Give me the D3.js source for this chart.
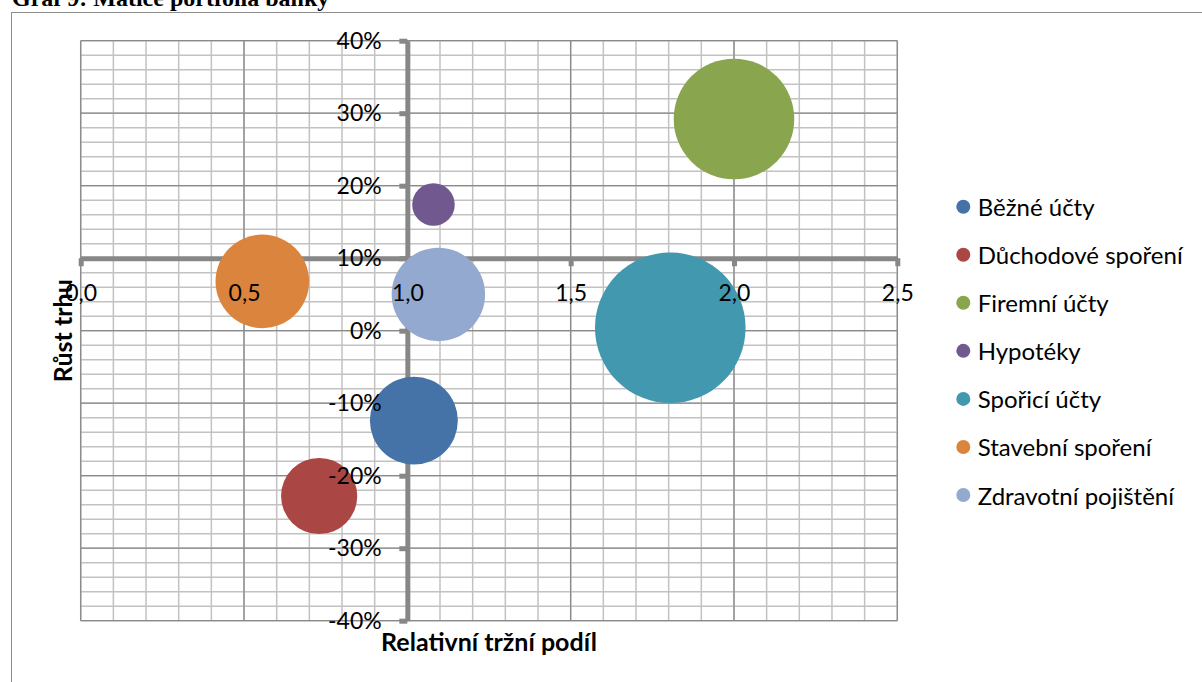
<!DOCTYPE html>
<html lang="cs">
<head>
<meta charset="utf-8">
<script src="https://cdn.jsdelivr.net/npm/d3@7"></script>
<style>
  html, body { margin: 0; padding: 0; background: #fff; }
  svg { display: block; }
</style>
</head>
<body>
<svg id="chart" width="1202" height="682"></svg>
<script>
// Portfolio matrix of the bank's products (BCG-style bubble chart)
const categories = ["Běžné účty", "Důchodové spoření", "Firemní účty", "Hypotéky",
                    "Spořicí účty", "Stavební spoření", "Zdravotní pojištění"];
const relativeShare = [1.02, 0.73, 2.00, 1.08, 1.805, 0.556, 1.095];
const marketGrowth  = [-0.124, -0.228, 0.292, 0.174, 0.004, 0.068, 0.050];
const segmentSize   = [34.1, 25.6, 64.1, 8.0, 100, 38.6, 38.5];
const colors = ["#4572A7", "#AA4643", "#89A54E", "#71588F", "#4198AF", "#DB843D", "#93A9CF"];

const xTicks = [0, 0.5, 1.0, 1.5, 2.0, 2.5];
const yTicks = [-0.4, -0.3, -0.2, -0.1, 0, 0.1, 0.2, 0.3, 0.4];
const xCross = 1.0;   // vertical axis crosses here
const yCross = 0.1;   // horizontal axis crosses here

const title = "Graf 9: Matice portfolia banky";
const xTitle = "Relativní tržní podíl";
const yTitle = "Růst trhu";

const cz = d3.formatLocale({decimal: ",", thousands: " ", grouping: [3], currency: ["", " Kč"], minus: "-", percent: "%"});
const fmtX = cz.format(".1f");
const fmtY = cz.format(".0%");

const svg = d3.select("#chart");
const plot = {left: 80.7, right: 897.3, top: 40.7, bottom: 620.7};

const x = d3.scaleLinear().domain([0, 2.5]).range([plot.left, plot.right]);
const y = d3.scaleLinear().domain([-0.4, 0.4]).range([plot.bottom, plot.top]);
const r = d3.scaleSqrt().domain([0, d3.max(segmentSize)]).range([0, 75.3]);

// frame around the figure
svg.append("rect")
  .attr("x", 11.5).attr("y", 12.5).attr("width", 1400).attr("height", 900)
  .attr("fill", "none").attr("stroke", "#8c8c8c").attr("stroke-width", 1);

// caption
svg.append("text")
  .attr("x", 12).attr("y", 5.5)
  .attr("font-family", "'Liberation Serif', 'Times New Roman', serif")
  .attr("font-weight", "bold").attr("font-size", 24)
  .text(title);

// gridlines
const minorX = d3.range(0, 26).map(i => i / 10);
const minorY = d3.range(0, 41).map(i => -0.4 + i * 0.02);
const grid = svg.append("g");
grid.selectAll(".mx").data(minorX).join("line")
  .attr("x1", d => x(d)).attr("x2", d => x(d))
  .attr("y1", plot.top).attr("y2", plot.bottom)
  .attr("stroke", "#c2c2c2").attr("stroke-width", 1.5);
grid.selectAll(".my").data(minorY).join("line")
  .attr("x1", plot.left).attr("x2", plot.right)
  .attr("y1", d => y(d)).attr("y2", d => y(d))
  .attr("stroke", "#c2c2c2").attr("stroke-width", 1.5);
grid.selectAll(".Mx").data(xTicks).join("line")
  .attr("x1", d => x(d)).attr("x2", d => x(d))
  .attr("y1", plot.top).attr("y2", plot.bottom)
  .attr("stroke", "#8a8a8a").attr("stroke-width", 1.3);
grid.selectAll(".My").data(yTicks).join("line")
  .attr("x1", plot.left).attr("x2", plot.right)
  .attr("y1", d => y(d)).attr("y2", d => y(d))
  .attr("stroke", "#8a8a8a").attr("stroke-width", 1.3);

// axis lines and tick marks (under the bubbles)
const axisColor = "#878787";
const xAxisLines = d3.axisBottom(x).tickValues(xTicks).tickSize(8).tickSizeOuter(0).tickFormat("");
const yAxisLines = d3.axisLeft(y).tickValues(yTicks).tickSize(8).tickSizeOuter(0).tickFormat("");
const gxl = svg.append("g").attr("transform", `translate(0,${y(yCross)})`).call(xAxisLines);
const gyl = svg.append("g").attr("transform", `translate(${x(xCross)},0)`).call(yAxisLines);
[gxl, gyl].forEach(g => {
  g.select(".domain").attr("stroke", axisColor).attr("stroke-width", 5);
  g.selectAll(".tick line").attr("stroke", axisColor).attr("stroke-width", 5);
  g.selectAll(".tick text").remove();
});

// bubbles
const idx = d3.range(categories.length);
svg.append("g").selectAll("circle").data(idx).join("circle")
  .attr("cx", i => x(relativeShare[i]))
  .attr("cy", i => y(marketGrowth[i]))
  .attr("r", i => r(segmentSize[i]))
  .attr("fill", i => colors[i]);

// tick labels (on top of bubbles)
const labelFont = "Lato, 'Open Sans', sans-serif";
const xAxisText = d3.axisBottom(x).tickValues(xTicks).tickSize(8).tickPadding(18.2).tickFormat(fmtX);
const yAxisText = d3.axisLeft(y).tickValues(yTicks).tickSize(8).tickPadding(17.6).tickFormat(fmtY);
const gxt = svg.append("g").attr("transform", `translate(0,${y(yCross)})`).call(xAxisText);
const gyt = svg.append("g").attr("transform", `translate(${x(xCross)},0)`).call(yAxisText);
[gxt, gyt].forEach(g => {
  g.select(".domain").remove();
  g.selectAll(".tick line").remove();
  g.attr("font-family", labelFont).attr("font-size", 23);
  g.selectAll(".tick text").attr("fill", "#000");
});

// axis titles
svg.append("text")
  .attr("x", (plot.left + plot.right) / 2).attr("y", 641)
  .attr("text-anchor", "middle").attr("dominant-baseline", "central")
  .attr("font-family", labelFont).attr("font-weight", "bold").attr("font-size", 25)
  .text(xTitle);
svg.append("text")
  .attr("transform", `translate(62,${(plot.top + plot.bottom) / 2}) rotate(-90)`)
  .attr("text-anchor", "middle").attr("dominant-baseline", "central")
  .attr("font-family", labelFont).attr("font-weight", "bold").attr("font-size", 25)
  .text(yTitle);

// legend
const legend = svg.append("g").attr("transform", "translate(963.3,206.7)");
const item = legend.selectAll("g").data(idx).join("g")
  .attr("transform", i => `translate(0,${i * 48.05})`);
item.append("circle").attr("r", 7).attr("fill", i => colors[i]);
item.append("text")
  .attr("x", 14.4).attr("dominant-baseline", "central")
  .attr("font-family", labelFont).attr("font-size", 24).attr("fill", "#000")
  .text(i => categories[i]);
</script>
</body>
</html>
